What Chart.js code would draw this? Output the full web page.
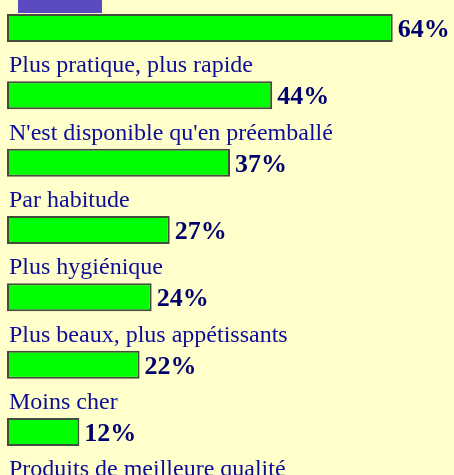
<!DOCTYPE html>
<html>
<head>
<meta charset="utf-8">
<script src="https://cdn.jsdelivr.net/npm/chart.js@4"></script>
<style>
  html, body { margin: 0; padding: 0; background: #FFFFCC; overflow: hidden; }
  #wrap { position: relative; width: 454px; height: 475px; overflow: hidden; background: #FFFFCC; }
  #tab { position: absolute; left: 18px; top: 0; width: 84px; height: 13px; background: #5B4AC0; }
  #c { position: absolute; left: 0; top: -40px; }
</style>
</head>
<body>
<div id="wrap">
  <div id="tab"></div>
  <canvas id="c" width="454" height="600"></canvas>
</div>
<script>
const categories = [
  "",
  "Plus pratique, plus rapide",
  "N'est disponible qu'en préemballé",
  "Par habitude",
  "Plus hygiénique",
  "Plus beaux, plus appétissants",
  "Moins cher",
  "Produits de meilleure qualité"
];
const values = [64, 44, 37, 27, 24, 22, 12, null];
const valueLabels = ["64%", "44%", "37%", "27%", "24%", "22%", "12%", ""];

const labelPlugin = {
  id: 'rowLabels',
  afterDatasetsDraw(chart) {
    const ctx = chart.ctx;
    const yScale = chart.scales.y;
    const meta = chart.getDatasetMeta(0);
    ctx.save();
    ctx.textBaseline = 'alphabetic';
    ctx.textAlign = 'left';
    categories.forEach((cat, i) => {
      const cy = yScale.getPixelForValue(i);
      if (cat) {
        ctx.font = '24px "Liberation Serif", "Times New Roman", serif';
        ctx.fillStyle = '#0c0c98';
        ctx.fillText(cat, chart.chartArea.left + 2, cy - 14 - 9);
      }
      if (values[i] !== null && values[i] !== undefined) {
        const bar = meta.data[i];
        ctx.font = 'bold 26px "Liberation Serif", "Times New Roman", serif';
        ctx.fillStyle = '#00006e';
        ctx.fillText(valueLabels[i], bar.x + 5, cy + 9);
      }
    });
    ctx.restore();
  }
};

new Chart(document.getElementById('c'), {
  type: 'bar',
  data: {
    labels: categories,
    datasets: [{
      data: values,
      backgroundColor: '#00FF00',
      borderColor: '#434d3c',
      borderWidth: 2,
      borderSkipped: false,
      barPercentage: 0.416,
      categoryPercentage: 1,
      clip: false
    }]
  },
  options: {
    indexAxis: 'y',
    responsive: false,
    animation: false,
    devicePixelRatio: 1,
    layout: { padding: { left: 7, right: 1, top: 34.33, bottom: 27 } },
    plugins: { legend: { display: false }, tooltip: { enabled: false } },
    scales: {
      x: { display: false, min: 0, max: 74 },
      y: { display: false, offset: true }
    }
  },
  plugins: [labelPlugin]
});
</script>
</body>
</html>
